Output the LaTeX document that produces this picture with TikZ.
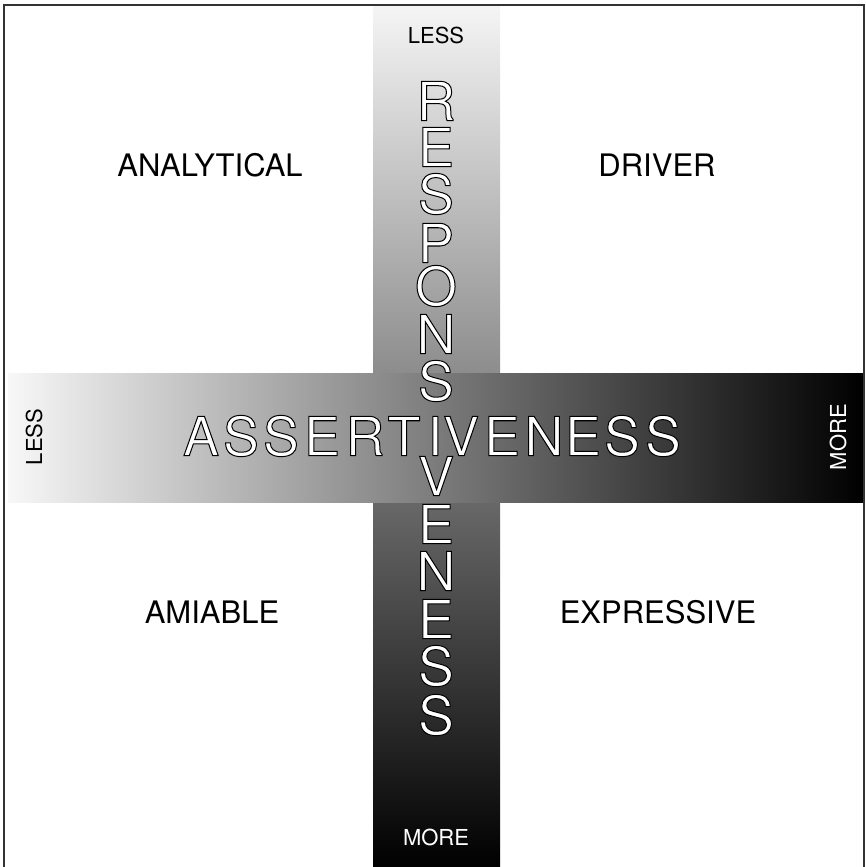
\documentclass[tikz,border=0pt]{standalone}
\usepackage{fontspec}
\setmainfont{TeX Gyre Heros}

% white letters with a thin black rim (fill and stroke text mode)
\newcommand{\hollow}[1]{{\color{white}\special{pdf:literal direct 0 G 0.5 w 2 Tr}#1\special{pdf:literal direct 0 Tr}}}

\begin{document}
\begin{tikzpicture}[x=0.5pt,y=-0.5pt,
    quadrant/.style={font=\fontsize{15.5}{18}\selectfont},
    endlabel/.style={font=\fontsize{11}{13}\selectfont},
    bigletter/.style={font=\fontsize{27}{30}\selectfont,inner sep=0pt}]
  \useasboundingbox (0,0) rectangle (866,867);
  % the two bands
  \shade[top color=black!4,bottom color=black] (373,6) rectangle (500,867);
  \shade[left color=black!3,right color=black] (8,373) rectangle (864,502);
  \draw[line width=1pt,black!80] (4,5) rectangle (864,880);
  % quadrants
  \node[quadrant] (analytical) at (210,165) {ANALYTICAL};
  \node[quadrant] (driver) at (657,165) {DRIVER};
  \node[quadrant] (amiable) at (212,612) {AMIABLE};
  \node[quadrant] (expressive) at (658,612) {EXPRESSIVE};
  % ends of the bands
  \node[endlabel] (resp_less) at (436,35) {LESS};
  \node[endlabel,white] (resp_more) at (436,837) {MORE};
  \node[endlabel,rotate=90] (ass_less) at (34,437) {LESS};
  \node[endlabel,white,rotate=90] (ass_more) at (838,437) {MORE};
  % ASSERTIVENESS across
  \foreach \l/\x [count=\i] in {A/201,S/241,S/281,E/322,R/365,T/404,I/435,
      V/461,E/502,N/544,E/583,S/622,S/663}
    \node[bigletter] (ass\i) at (\x,436) {\hollow{\l}};
  % RESPONSIVENESS down, the I is shared
  \foreach \l/\y [count=\i] in {R/101,E/147,S/194,P/243,O/286,N/334,S/381,
      V/476,E/524,N/571,E/619,S/666,S/715}
    \node[bigletter] (resp\i) at (436,\y) {\hollow{\l}};
\end{tikzpicture}
\end{document}
